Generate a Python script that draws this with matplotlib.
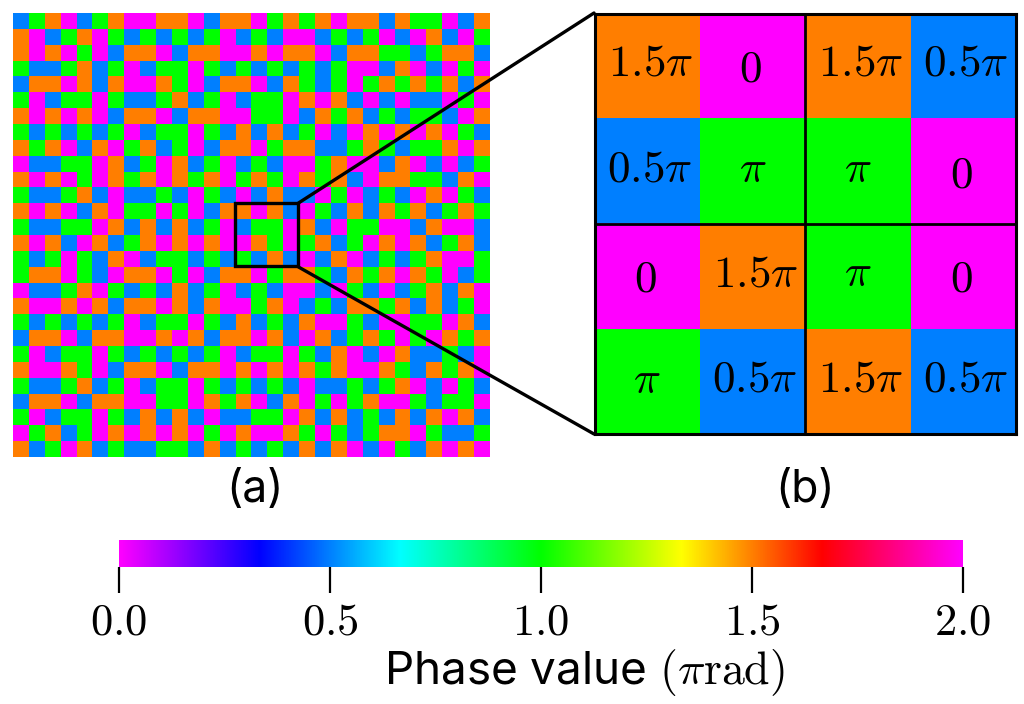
import matplotlib
matplotlib.use('Agg')
import matplotlib.colors as mcolors
import matplotlib.patches as mpatches
import matplotlib.pyplot as plt
import numpy as np

W, H = 1024, 704

# M=0, B=0.5pi, G=pi, O=1.5pi
PHASE_ROWS = [
    "BGOMBGOMMOOMBOOMGOGOMOOBOGGMBO",
    "OMBGOMGBGBGBGMBGBMMBGBGMBMOBMG",
    "OMOMGMBOOMBOOMMOMOOMBOOGGBGOOB",
    "GBBGOBGMBGGMGBGBGBGBGMMBOMBMGM",
    "BOOMOBOMMOGMBOOMBOGBGMGOGOGOBO",
    "GMBGGMGBBGOBGMBGGMOMOBMBMBBMGM",
    "OMOMOMBOOMBOOMMGGMBOGOBGBGGBMO",
    "GBGBGBGMBGGMGBOBOBGMBMOMOMOMGB",
    "OGOMBOMGOBGMBOOMGOOBBGOGBGGOMO",
    "MBBGGMOBGMOBGMBGBMMGOMMBOMBMBG",
    "OMOMGMOGOMOGOMGOGMOGOBMOOGGBOM",
    "GBBGOBMBBGBMGBMBOBBMGMBGBMOMGB",
    "OMOMBOMGGMGMBOOMOBMGBOBOGOBGOG",
    "GBBGGMOBOBOBGMBGGMOBMGGMMBOMMB",
    "OMOBMOBGOMOMOMMOGMGOBGMOMOBGOB",
    "GBGMGBOMBGGBGBGBOBMBOMBGBGOMMG",
    "GOOMGBMOOMGMBOOMGOOGBOGOMOGMBG",
    "MBBGOMGBGBOBGMBGBMMBMGBMBGOBOM",
    "OMMOMOBOOMOBOMMGOMBGBOOGOBOBGM",
    "GBGBGBGMBGGMGBOBGBOMMGBMMGGMOB",
    "BOOMBOOMMOMOBOOMOBMOBGOGMGMOGO",
    "GMBGGMGBGBGBGMBGGMGBOMBMOBBGBM",
    "OMMOGMBOOMBOOMOMOMOGOMMOGBOGOM",
    "GBBGOBGMBGGMGBGBGBMBBGBGOMBMGB",
    "BOOMBOOMMGGMOGOMBOMGMGOMMGBGGM",
    "GMBGGMGBOBOBMBBGGMOBOBGBOBOMOB",
    "MGOBGMOMOMOMGMOMMOGMGBGOOMGBBG",
    "OBGMOBGBBGGBOBGBGBOBOMBMGBOMOM",
]
PHASE_VALUES = {"M": 0.0, "B": 0.5, "G": 1.0, "O": 1.5}
ZOOM_LABELS = [
    ["$1.5\\pi$", "$0$", "$1.5\\pi$", "$0.5\\pi$"],
    ["$0.5\\pi$", "$\\pi$", "$\\pi$", "$0$"],
    ["$0$", "$1.5\\pi$", "$\\pi$", "$0$"],
    ["$\\pi$", "$0.5\\pi$", "$1.5\\pi$", "$0.5\\pi$"],
]
# label nudges inside each zoom cell, in pixels (right, down)
ZOOM_NUDGE = [
    [(3, -3), (-2, 3), (3, -3), (3, -3)],
    [(2, -2), (0, -1), (0, -1), (-1, 4)],
    [(-2, 3), (3, -2), (0, -2), (-1, 3)],
    [(0, 0), (2, -2), (3, -2), (3, -2)],
]
CBAR_TICKS = [0.0, 0.5, 1.0, 1.5, 2.0]
CBAR_LABELS = ["$0.0$", "$0.5$", "$1.0$", "$1.5$", "$2.0$"]


def px_axes(fig, left, top, right, bottom):
    return fig.add_axes([left / W, 1 - bottom / H, (right - left) / W, (bottom - top) / H])


plt.rcParams['mathtext.fontset'] = 'cm'
plt.rcParams['font.family'] = ['Inter', 'Liberation Sans', 'DejaVu Sans']

grid = np.array([[PHASE_VALUES[c] for c in row] for row in PHASE_ROWS])
cmap = mcolors.LinearSegmentedColormap.from_list(
    "phase",
    [(0, "#ff00ff"), (1 / 6, "#0000ff"), (2 / 6, "#00ffff"), (3 / 6, "#00ff00"),
     (4 / 6, "#ffff00"), (5 / 6, "#ff0000"), (1, "#ff00ff")],
    N=1200,
)

fig = plt.figure(figsize=(W / 100, H / 100), dpi=100, facecolor="white")

ax1 = px_axes(fig, 13.3, 13.2, 489.4, 457)
im = ax1.imshow(grid, cmap=cmap, vmin=0, vmax=2, aspect="auto", interpolation="nearest")
ax1.axis("off")
box = mpatches.Rectangle((13.46, 11.46), 4, 4, fill=False, edgecolor="black", lw=2.4, zorder=5)
ax1.add_patch(box)

ax2 = px_axes(fig, 594.5, 13.5, 1015.5, 434)
ax2.imshow(grid[12:16, 14:18], cmap=cmap, vmin=0, vmax=2, aspect="auto", interpolation="nearest")
ax2.set_xticks([])
ax2.set_yticks([])
for s in ax2.spines.values():
    s.set_linewidth(2.2)
ax2.axvline(1.5, color="black", lw=2.0)
ax2.axhline(1.5, color="black", lw=2.0)
for r, row in enumerate(ZOOM_LABELS):
    for c, lab in enumerate(row):
        dx, dy = ZOOM_NUDGE[r][c]
        ax2.annotate(lab, xy=(c, r), xytext=(dx, -dy), textcoords="offset pixels",
                     ha="center", va="center", fontsize=32.5, color="black")

# connector lines from the box to the panel corners
overlay = fig.add_axes([0, 0, 1, 1], facecolor="none")
overlay.set_xlim(0, W)
overlay.set_ylim(H, 0)
overlay.axis("off")
overlay.plot([298.5, 594], [203, 13], color="black", lw=2.4, solid_capstyle="round")
overlay.plot([298.5, 594], [267, 434], color="black", lw=2.4, solid_capstyle="round")
overlay.text(255, 490, "(a)", ha="center", va="center", fontsize=32)
overlay.text(805, 490, "(b)", ha="center", va="center", fontsize=32)

cax = px_axes(fig, 119, 540, 963, 567)
cb = fig.colorbar(im, cax=cax, orientation="horizontal", ticks=CBAR_TICKS)
cb.outline.set_visible(False)
cb.ax.set_xticklabels(CBAR_LABELS)
cb.ax.tick_params(axis="x", length=18.5, width=1.6, pad=6, labelsize=32)
overlay.text(584, 673, "Phase value $(\\pi\\mathrm{rad})$", ha="center", va="center", fontsize=33)

plt.savefig("out.png", dpi=100)
plt.close(fig)
